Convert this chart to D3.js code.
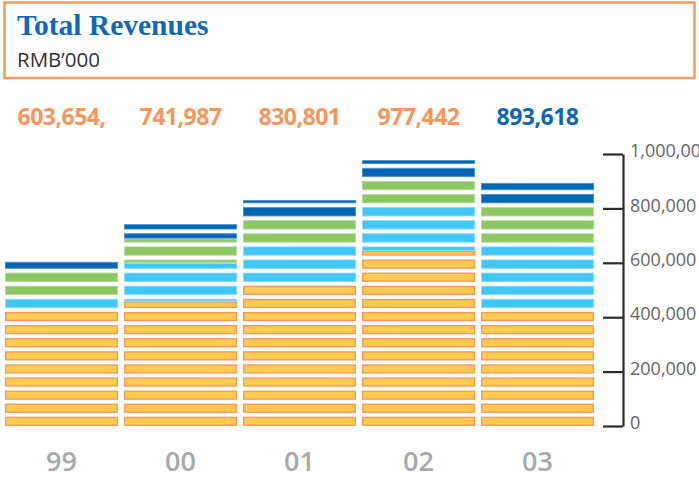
<!DOCTYPE html>
<html>
<head>
<meta charset="utf-8">
<script src="https://cdn.jsdelivr.net/npm/d3@7"></script>
<style>
  html, body { margin: 0; padding: 0; background: #fff; }
  svg { display: block; }
</style>
</head>
<body>
<svg id="chart" width="699" height="488"></svg>
<script>
// ---- data ----
const years = ["99", "00", "01", "02", "03"];
const totalLabels = ["603,654,", "741,987", "830,801", "977,442", "893,618"];
const seriesKeys = ["base", "second", "third", "fourth"];
const baseValues   = [426000, 458000, 523000, 644000, 426000];
const secondValues = [49000, 141000, 144000, 168000, 241000];
const thirdValues  = [96000, 90000, 97000, 96000, 145000];
const fourthValues = [32654, 52987, 66801, 69442, 81618];
const axisTicks = [0, 200000, 400000, 600000, 800000, 1000000];

const table = years.map((y, i) => ({
  year: y,
  base: baseValues[i], second: secondValues[i], third: thirdValues[i], fourth: fourthValues[i]
}));

const svg = d3.select("#chart");

// header box
svg.append("rect").attr("x", 4.5).attr("y", 2.5).attr("width", 690).attr("height", 75.5)
  .attr("fill", "#fff").attr("stroke", "#F79A5A").attr("stroke-width", 2.5);
svg.append("text").attr("x", 17).attr("y", 35)
  .attr("font-family", "'Liberation Serif', 'Times New Roman', serif")
  .attr("font-weight", 700).attr("font-size", 29.5).attr("fill", "#1167B8")
  .text("Total Revenues");
svg.append("text").attr("x", 17).attr("y", 67)
  .attr("font-family", "'Open Sans', sans-serif")
  .attr("font-size", 20.5).attr("fill", "#333")
  .text("RMB\u2019000");

// scales
const x = d3.scaleBand().domain(years).range([2, 597]).paddingInner(0.05).paddingOuter(0.025);
const y = d3.scaleLinear().domain([0, 1000000]).range([426, 154]);

const colors = { base: "#FFCB50", second: "#41C7F3", third: "#8CC764", fourth: "#0067B4" };
const edge = { base: "#F99A5A", second: "#8ADCF7", third: "#B5DB9C", fourth: "#4F90CC" };

const stacked = d3.stack().keys(seriesKeys)(table);

const pitch = 13.1, stripeH = 9.3, base = y(0);
const pieces = [];
stacked.forEach(layer => {
  layer.forEach(d => {
    const segTop = y(d[1]), segBot = y(d[0]);
    for (let k = 0; ; k++) {
      const sb = base - pitch * k, st = sb - stripeH;
      if (sb <= segTop) break;
      const top = Math.max(st, segTop), bot = Math.min(sb, segBot);
      if (bot - top > 0.05) {
        pieces.push({ key: layer.key, year: d.data.year, top, bot });
      }
    }
  });
});

const g = svg.append("g");
g.selectAll("rect.piece").data(pieces).join("rect")
  .attr("class", "piece")
  .each(function(p) {
    const sw = p.key === "base" ? 1.4 : 0.9;
    d3.select(this)
      .attr("x", x(p.year) + sw / 2)
      .attr("width", x.bandwidth() - sw)
      .attr("y", p.top + sw / 2)
      .attr("height", Math.max(0, p.bot - p.top - sw))
      .attr("fill", colors[p.key])
      .attr("stroke", edge[p.key])
      .attr("stroke-width", sw);
  });

// total labels
svg.selectAll("text.total").data(years).join("text")
  .attr("class", "total")
  .attr("x", d => x(d) + x.bandwidth() / 2)
  .attr("y", 125)
  .attr("text-anchor", "middle")
  .attr("font-family", "'Open Sans', sans-serif")
  .attr("font-weight", 700)
  .attr("font-size", 23)
  .attr("letter-spacing", -0.5)
  .attr("fill", (d, i) => i === years.length - 1 ? "#0B66B5" : "#F7965A")
  .text((d, i) => totalLabels[i]);

// year labels
svg.selectAll("text.year").data(years).join("text")
  .attr("class", "year")
  .attr("x", d => x(d) + x.bandwidth() / 2)
  .attr("y", 471)
  .attr("text-anchor", "middle")
  .attr("font-family", "'Open Sans', sans-serif")
  .attr("font-weight", 600)
  .attr("font-size", 27)
  .attr("fill", "#A7A9AC")
  .text(d => d);

// axis
const axis = d3.axisRight(y).tickValues(axisTicks).tickFormat(d3.format(","))
  .tickSizeInner(-20).tickSizeOuter(0).tickPadding(7);
const ag = svg.append("g").attr("transform", "translate(623,0)").call(axis);
ag.select(".domain").attr("stroke", "#2b2b2b").attr("stroke-width", 2.2);
ag.selectAll(".tick line").attr("stroke", "#2b2b2b").attr("stroke-width", 2.2);
ag.selectAll(".tick text")
  .attr("font-family", "'Open Sans', sans-serif")
  .attr("font-size", 18).attr("fill", "#666")
  .attr("dy", "0.15em");
</script>
</body>
</html>
